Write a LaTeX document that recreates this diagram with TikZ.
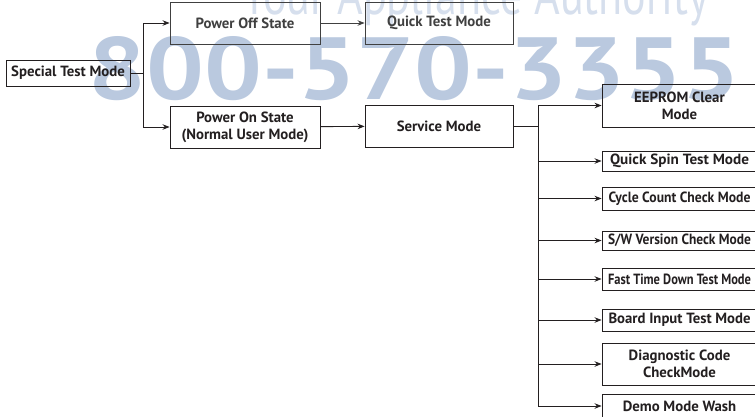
\documentclass[tikz,border=0pt]{standalone}
\usepackage{fontspec}
\setmainfont{PT Sans}
\usepackage{xcolor}
\usepackage{graphicx}
\usetikzlibrary{arrows.meta}
\definecolor{wmark}{RGB}{186,201,223}
\definecolor{wmarklight}{RGB}{214,223,237}
\definecolor{ink}{RGB}{35,31,32}
\newcommand{\squeeze}[2]{\resizebox{#1}{\height}{#2}}

\begin{document}
\begin{tikzpicture}[x=1pt,y=-1pt,line width=0.9pt,draw=ink,
  >={Stealth[length=7pt,width=5.5pt]},
  box/.style={draw=ink,align=center,inner sep=0pt,text=ink,
    font=\bfseries\fontsize{14.8}{17}\selectfont},
  dim/.style={draw=black!75,text=black!75},
  wide/.style={minimum width=150pt,minimum height=42pt},
  side/.style={minimum width=155pt,minimum height=22pt}]

\clip (0,0) rectangle (755,416);

% watermark
\node [anchor=south west,inner sep=0pt,text=wmark,font=\bfseries] (w1) at (88,101) {\resizebox{652pt}{63pt}{800-570-3355}};
\node [anchor=base west,inner sep=0pt,text=wmarklight] (w2) at (242,14) {\resizebox{466pt}{40pt}{Your Appliance Authority}};

\node [box,minimum width=124pt,minimum height=26pt] (v1) at (68,73) {Special Test Mode};
\node [box,wide,dim] (v2) at (245,23) {Power Off State};
\node [box,wide,dim,minimum width=148pt] (v3) at (439,23) {Quick Test Mode};
\node [box,wide] (v4) at (245,127) {Power On State\\(Normal User Mode)};
\node [box,wide,minimum width=148pt] (v5) at (439,126) {Service Mode};

\node [box,side,minimum height=43pt] (v6) at (679.5,105.5) {EEPROM Clear\\Mode};
\node [box,side,minimum height=20pt] (v7) at (679.5,161) {\squeeze{139pt}{Quick Spin Test Mode}};
\node [box,side,minimum height=23pt] (v8) at (679.5,198.5) {\squeeze{142pt}{Cycle Count Check Mode}};
\node [box,side,minimum height=19pt] (v9) at (679.5,240.5) {\squeeze{143pt}{S/W Version Check Mode}};
\node [box,side] (v10) at (679.5,279) {\squeeze{143pt}{Fast Time Down Test Mode}};
\node [box,side] (v11) at (679.5,320) {\squeeze{142pt}{Board Input Test Mode}};
\node [box,side,minimum height=42pt] (v12) at (679.5,364) {Diagnostic Code\\CheckMode};
\node [box,side,minimum height=24pt] (v13) at (679.5,406) {Demo Mode Wash};

\draw (v1.east) -- ++(13,0) coordinate (t0);
\draw [->] (t0) |- (v2);
\draw [->] (t0) |- (v4);
\draw [->,draw=black!75] (v2) -- (v3);
\draw [->] (v4) -- (v5);

\draw (v5.east) -- ++(25,0) coordinate (t1);
\foreach \n in {v6,v7,v8,v9,v10,v11,v12,v13}
  \draw [->] (t1) |- (\n);
\end{tikzpicture}
\end{document}
